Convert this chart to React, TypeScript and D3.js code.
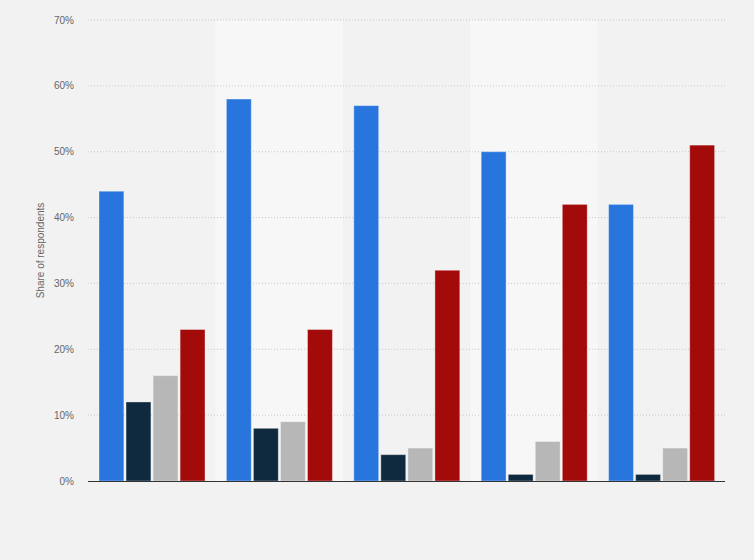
import { useRef, useEffect } from 'react';
import * as d3 from 'd3';

// x-axis categories carry no visible labels in the chart
const categories = ['Group 1', 'Group 2', 'Group 3', 'Group 4', 'Group 5'];
const seriesNames = ['Series A', 'Series B', 'Series C', 'Series D'];
const seriesColors = ['#2876dd', '#0f2a3f', '#b7b7b7', '#a30a0a'];

const seriesA = [44, 58, 57, 50, 42];
const seriesB = [12, 8, 4, 1, 1];
const seriesC = [16, 9, 5, 6, 5];
const seriesD = [23, 23, 32, 42, 51];

const yTicks = [0, 10, 20, 30, 40, 50, 60, 70];

export default function App() {
    const svgRef = useRef<SVGSVGElement>(null);

    useEffect(() => {
        if (!svgRef.current) return;

        const width = 754;
        const height = 560;
        const margin = { top: 20, right: 29, bottom: 79, left: 88 };

        const svg = d3.select(svgRef.current);
        svg.selectAll('*').remove();

        svg.append('rect')
            .attr('width', width)
            .attr('height', height)
            .attr('fill', '#f2f2f2');

        const x = d3.scaleBand<string>()
            .domain(categories)
            .range([margin.left, width - margin.right])
            .padding(0);

        const xInner = d3.scaleBand<string>()
            .domain(seriesNames)
            .range([11, x.bandwidth() - 10.4])
            .paddingInner(0.08);

        const y = d3.scaleLinear()
            .domain([0, 70])
            .range([height - margin.bottom, margin.top]);

        // alternating column shading, inside the plot area only
        svg.append('g')
            .selectAll('rect')
            .data(categories.filter((_, i) => i % 2 === 1))
            .enter()
            .append('rect')
            .attr('x', d => x(d) as number)
            .attr('y', y(70))
            .attr('width', x.bandwidth())
            .attr('height', y(0) - y(70))
            .attr('fill', '#f7f7f7');

        // gridlines
        svg.append('g')
            .selectAll('line')
            .data(yTicks.filter(t => t > 0))
            .enter()
            .append('line')
            .attr('x1', margin.left)
            .attr('x2', width - margin.right)
            .attr('y1', d => y(d))
            .attr('y2', d => y(d))
            .attr('stroke', '#c8c8c8')
            .attr('stroke-width', 1)
            .attr('stroke-dasharray', '1,2');

        // tick labels
        svg.append('g')
            .selectAll('text')
            .data(yTicks)
            .enter()
            .append('text')
            .attr('x', 74)
            .attr('y', d => y(d))
            .attr('dy', '0.35em')
            .attr('text-anchor', 'end')
            .attr('fill', '#666')
            .style('font-family', '"Liberation Sans", Arial, sans-serif')
            .style('font-size', '10px')
            .text(d => `${d}%`);

        // y-axis title
        svg.append('text')
            .attr('transform', `translate(44, ${(y(0) + y(70)) / 2}) rotate(-90)`)
            .attr('text-anchor', 'middle')
            .attr('fill', '#666')
            .style('font-family', '"Liberation Sans", Arial, sans-serif')
            .style('font-size', '10px')
            .text('Share of respondents');

        const allSeries = [seriesA, seriesB, seriesC, seriesD];

        // bars
        const groups = svg.append('g')
            .selectAll('g')
            .data(categories)
            .enter()
            .append('g')
            .attr('transform', d => `translate(${x(d)},0)`);

        groups.selectAll('rect')
            .data((_, i) => allSeries.map((s, j) => ({ name: seriesNames[j], value: s[i], color: seriesColors[j] })))
            .enter()
            .append('rect')
            .attr('x', d => xInner(d.name) as number)
            .attr('y', d => y(d.value))
            .attr('width', xInner.bandwidth())
            .attr('height', d => y(0) - y(d.value))
            .attr('fill', d => d.color)
            .attr('stroke', 'rgba(255,255,255,0.35)')
            .attr('stroke-width', 1);

        // baseline
        svg.append('line')
            .attr('x1', margin.left)
            .attr('x2', width - margin.right)
            .attr('y1', y(0) + 0.5)
            .attr('y2', y(0) + 0.5)
            .attr('stroke', '#333')
            .attr('stroke-width', 1.2);
    }, []);

    return (
        <div style={{ position: 'absolute', left: 0, top: 0 }}>
            <svg ref={svgRef} width={754} height={560} style={{ display: 'block' }}></svg>
        </div>
    );
}
